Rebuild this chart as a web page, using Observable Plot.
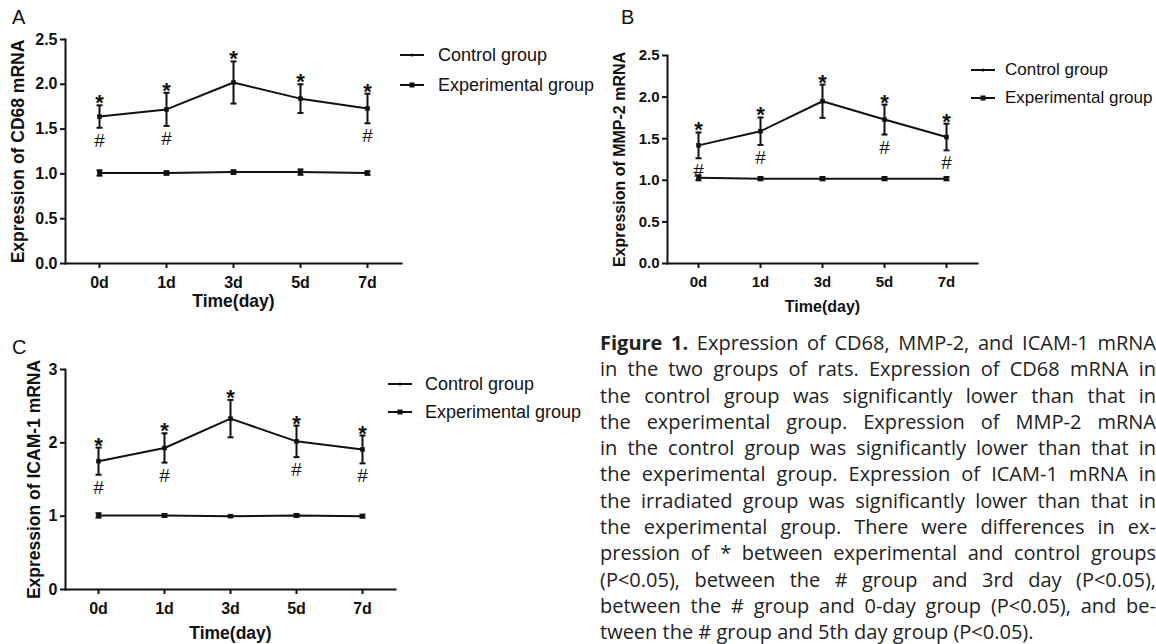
<!DOCTYPE html>
<html>
<head>
<meta charset="utf-8">
<script src="https://cdn.jsdelivr.net/npm/d3@7"></script>
<script src="https://cdn.jsdelivr.net/npm/@observablehq/plot@0.6"></script>
<style>
  html, body { margin: 0; padding: 0; background: #fff; }
  #root { position: relative; width: 1156px; height: 644px; overflow: hidden; background: #fff; }
  .abs { position: absolute; }
  .letter { font-family: "Liberation Sans", Arial, sans-serif; font-size: 20px; line-height: 20px; color: #111; }
  .legend { font-family: "Liberation Sans", Arial, sans-serif; color: #111; }
  .legend .item { position: absolute; white-space: nowrap; display: flex; align-items: center; }
  .legend svg { display: block; }
  #caption { position: absolute; left: 600px; top: 330px; width: 556px; font-family: "Open Sans", "Noto Sans", sans-serif; font-size: 20px; color: #222; }
  #caption .ln { height: 26.3px; line-height: 26.3px; white-space: nowrap; }
  #caption .ln span.t { display: inline-block; white-space: nowrap; }
</style>
</head>
<body>
<div id="root"></div>
<script>
// ---------------- data ----------------
const days = ["0d", "1d", "3d", "5d", "7d"];

// Panel A: CD68
const cd68Exp    = [1.64, 1.72, 2.02, 1.84, 1.73];
const cd68ExpSE  = [0.125, 0.185, 0.235, 0.16, 0.165];
const cd68Ctrl   = [1.01, 1.01, 1.02, 1.02, 1.01];
const cd68CtrlSE = [0.03, 0.02, 0.02, 0.03, 0.02];
const cd68Hash   = ["0d", "1d", "7d"];
const cd68Ticks  = [0, 0.5, 1.0, 1.5, 2.0, 2.5];

// Panel B: MMP-2
const mmp2Exp    = [1.42, 1.59, 1.95, 1.73, 1.52];
const mmp2ExpSE  = [0.155, 0.165, 0.20, 0.18, 0.16];
const mmp2Ctrl   = [1.03, 1.02, 1.02, 1.02, 1.02];
const mmp2CtrlSE = [0.03, 0.02, 0.02, 0.02, 0.02];
const mmp2Hash   = ["0d", "1d", "5d", "7d"];
const mmp2Ticks  = [0, 0.5, 1.0, 1.5, 2.0, 2.5];

// Panel C: ICAM-1
const icamExp    = [1.75, 1.93, 2.33, 2.02, 1.91];
const icamExpSE  = [0.185, 0.20, 0.255, 0.215, 0.19];
const icamCtrl   = [1.01, 1.01, 1.00, 1.01, 1.00];
const icamCtrlSE = [0.03, 0.02, 0.01, 0.02, 0.02];
const icamHash   = ["0d", "1d", "5d", "7d"];
const icamTicks  = [0, 1, 2, 3];

const seriesNames = ["Control group", "Experimental group"];

const captionLines = [
  "Expression of CD68, MMP-2, and ICAM-1 mRNA",
  "in the two groups of rats. Expression of CD68 mRNA in",
  "the control group was significantly lower than that in",
  "the experimental group. Expression of MMP-2 mRNA",
  "in the control group was significantly lower than that in",
  "the experimental group. Expression of ICAM-1 mRNA in",
  "the irradiated group was significantly lower than that in",
  "the experimental group. There were differences in ex-",
  "pression of * between experimental and control groups",
  "(P<0.05), between the # group and 3rd day (P<0.05),",
  "between the # group and 0-day group (P<0.05), and be-",
  "tween the # group and 5th day group (P<0.05)."
];

// ---------------- helpers ----------------
const rows = (vals, se) => days.map((d, i) => ({day: d, v: vals[i], lo: vals[i] - se[i], hi: vals[i] + se[i]}));

const capSymbol = {
  draw(ctx, size) {
    const w = Math.sqrt(size / Math.PI);
    ctx.moveTo(-w, 0);
    ctx.lineTo(w, 0);
  }
};

function panel(cfg) {
  const ctrl = rows(cfg.ctrl, cfg.ctrlSE);
  const exp = rows(cfg.exp, cfg.expSE);
  const hashRows = exp.filter(d => cfg.hash.includes(d.day));
  const tf = cfg.tickFormat;
  return Plot.plot({
    width: cfg.width,
    height: cfg.height,
    marginLeft: cfg.ml, marginRight: cfg.mr, marginTop: cfg.mt, marginBottom: cfg.mb,
    style: {fontFamily: "'Liberation Sans', Arial, sans-serif", fontSize: cfg.tickSize + "px", fontWeight: "bold", color: "#111", background: "transparent", overflow: "visible"},
    x: {type: "point", domain: days, padding: 0.5},
    y: {domain: cfg.domain},
    marks: [
      Plot.frame({anchor: "left", strokeWidth: 2, stroke: "#111"}),
      Plot.frame({anchor: "bottom", strokeWidth: 2, stroke: "#111"}),
      Plot.axisY({ticks: cfg.ticks, tickFormat: tf, tickSize: 5, tickPadding: 3, strokeWidth: 2,
        fontSize: cfg.tickSize, label: null}),
      Plot.axisY({ticks: [], label: cfg.ylabel, labelAnchor: "center", labelArrow: "none",
        labelOffset: cfg.ylabelOffset, fontSize: cfg.labelSize}),
      Plot.axisX({tickSize: 5, tickPadding: cfg.xTickPad, strokeWidth: 2, fontSize: cfg.tickSize, label: null}),
      Plot.axisX({ticks: [], label: "Time(day)", labelAnchor: "center", labelArrow: "none",
        labelOffset: cfg.xlabelOffset, fontSize: cfg.labelSize}),
      // control
      Plot.line(ctrl, {x: "day", y: "v", stroke: "#111", strokeWidth: 2}),
      Plot.ruleX(ctrl, {x: "day", y1: "lo", y2: "hi", stroke: "#111", strokeWidth: 2}),
      Plot.dot(ctrl, {x: "day", y: "lo", symbol: capSymbol, r: 3, stroke: "#111", strokeWidth: 2}),
      Plot.dot(ctrl, {x: "day", y: "hi", symbol: capSymbol, r: 3, stroke: "#111", strokeWidth: 2}),
      Plot.dot(ctrl, {x: "day", y: "v", symbol: "square", r: 2.6, fill: "#111", stroke: "none"}),
      // experimental
      Plot.line(exp, {x: "day", y: "v", stroke: "#111", strokeWidth: 2}),
      Plot.ruleX(exp, {x: "day", y1: "lo", y2: "hi", stroke: "#111", strokeWidth: 2}),
      Plot.dot(exp, {x: "day", y: "lo", symbol: capSymbol, r: 3, stroke: "#111", strokeWidth: 2}),
      Plot.dot(exp, {x: "day", y: "hi", symbol: capSymbol, r: 3, stroke: "#111", strokeWidth: 2}),
      Plot.dot(exp, {x: "day", y: "v", symbol: "square", r: 2.6, fill: "#111", stroke: "none"}),
      // significance marks
      Plot.text(exp, {x: "day", y: "hi", text: () => "*", lineAnchor: "bottom", dy: cfg.starDy,
        fontSize: cfg.starSize, fontWeight: "bold", fill: "#111"}),
      Plot.text(hashRows, {x: "day", y: "lo", text: () => "#", lineAnchor: "bottom", dy: cfg.hashDy,
        fontSize: cfg.hashSize, fontWeight: "normal", fill: "#111"})
    ]
  });
}

function legendGlyph(kind) {
  const ns = "http://www.w3.org/2000/svg";
  const svg = document.createElementNS(ns, "svg");
  svg.setAttribute("width", 24); svg.setAttribute("height", 10);
  const line = document.createElementNS(ns, "line");
  line.setAttribute("x1", 0); line.setAttribute("x2", 24);
  line.setAttribute("y1", 5); line.setAttribute("y2", 5);
  line.setAttribute("stroke", "#111"); line.setAttribute("stroke-width", 2);
  svg.appendChild(line);
  if (kind === 1) {
    const r = document.createElementNS(ns, "rect");
    r.setAttribute("x", 9.5); r.setAttribute("y", 2.5); r.setAttribute("width", 5); r.setAttribute("height", 5);
    r.setAttribute("fill", "#111");
    svg.appendChild(r);
  } else {
    const c = document.createElementNS(ns, "circle");
    c.setAttribute("cx", 12); c.setAttribute("cy", 5); c.setAttribute("r", 1.6);
    c.setAttribute("fill", "#111");
    svg.appendChild(c);
  }
  return svg;
}

function legend(root, left, top, gap, fontSize, spacing) {
  const box = document.createElement("div");
  box.className = "abs legend";
  box.style.left = left + "px"; box.style.top = top + "px";
  seriesNames.forEach((name, i) => {
    const item = document.createElement("div");
    item.className = "item";
    item.style.top = (i * spacing) + "px";
    item.style.left = "0px";
    item.style.height = "20px";
    item.appendChild(legendGlyph(i));
    const t = document.createElement("span");
    t.textContent = name;
    t.style.fontSize = fontSize + "px";
    t.style.marginLeft = gap + "px";
    t.style.lineHeight = "20px";
    item.appendChild(t);
    box.appendChild(item);
  });
  root.appendChild(box);
}

function place(root, node, left, top) {
  const wrap = document.createElement("div");
  wrap.className = "abs";
  wrap.style.left = left + "px"; wrap.style.top = top + "px";
  wrap.appendChild(node);
  root.appendChild(wrap);
}

function letter(root, ch, left, top) {
  const d = document.createElement("div");
  d.className = "abs letter";
  d.style.left = left + "px"; d.style.top = top + "px";
  d.textContent = ch;
  root.appendChild(d);
}

// ---------------- build ----------------
const root = document.getElementById("root");

place(root, panel({
  exp: cd68Exp, expSE: cd68ExpSE, ctrl: cd68Ctrl, ctrlSE: cd68CtrlSE, hash: cd68Hash,
  ticks: cd68Ticks, tickFormat: d3.format(".1f"), domain: [0, 2.5], ylabel: "Expression of CD68 mRNA",
  width: 410, height: 312, ml: 65, mr: 9, mt: 39, mb: 49,
  tickSize: 16, labelSize: 17.5, ylabelOffset: 54, xlabelOffset: 43, xTickPad: 8,
  starDy: 5, starSize: 22, hashDy: 19, hashSize: 19
}), 0, 0);

place(root, panel({
  exp: mmp2Exp, expSE: mmp2ExpSE, ctrl: mmp2Ctrl, ctrlSE: mmp2CtrlSE, hash: mmp2Hash,
  ticks: mmp2Ticks, tickFormat: d3.format(".1f"), domain: [0, 2.5], ylabel: "Expression of MMP-2 mRNA",
  width: 410, height: 320, ml: 87, mr: 13, mt: 55, mb: 57,
  tickSize: 15, labelSize: 16, ylabelOffset: 54, xlabelOffset: 48, xTickPad: 8,
  starDy: 5, starSize: 22, hashDy: 19, hashSize: 19
}), 580, 0);

place(root, panel({
  exp: icamExp, expSE: icamExpSE, ctrl: icamCtrl, ctrlSE: icamCtrlSE, hash: icamHash,
  ticks: icamTicks, tickFormat: d3.format("d"), domain: [0, 3], ylabel: "Expression of ICAM-1 mRNA",
  width: 410, height: 344, ml: 65, mr: 15, mt: 69, mb: 55,
  tickSize: 16, labelSize: 17.5, ylabelOffset: 38, xlabelOffset: 49, xTickPad: 8,
  starDy: 5, starSize: 22, hashDy: 19, hashSize: 19
}), 0, 300);

letter(root, "A", 12, 7);
letter(root, "B", 621, 7);
letter(root, "C", 12, 337);

legend(root, 400, 45, 14, 18, 30);
legend(root, 971, 60, 10, 17, 28);
legend(root, 388, 374, 13, 18, 28);

// caption: each printed line kept as in the source, justified to the column width
const cap = document.createElement("div");
cap.id = "caption";
root.appendChild(cap);
const capWidth = 556;
captionLines.forEach((txt, i) => {
  const ln = document.createElement("div");
  ln.className = "ln";
  const t = document.createElement("span");
  t.className = "t";
  if (i === 0) {
    const b = document.createElement("b");
    b.textContent = "Figure 1.";
    t.appendChild(b);
    t.appendChild(document.createTextNode(" " + txt));
  } else {
    t.textContent = txt;
  }
  ln.appendChild(t);
  cap.appendChild(ln);
  const last = i === captionLines.length - 1;
  const w = t.getBoundingClientRect().width;
  const nSpaces = (t.textContent.match(/ /g) || []).length;
  if (!last && nSpaces > 0) {
    t.style.wordSpacing = ((capWidth - w) / nSpaces) + "px";
  } else if (w > capWidth) {
    t.style.wordSpacing = ((capWidth - w) / nSpaces) + "px";
  }
});
</script>
</body>
</html>
